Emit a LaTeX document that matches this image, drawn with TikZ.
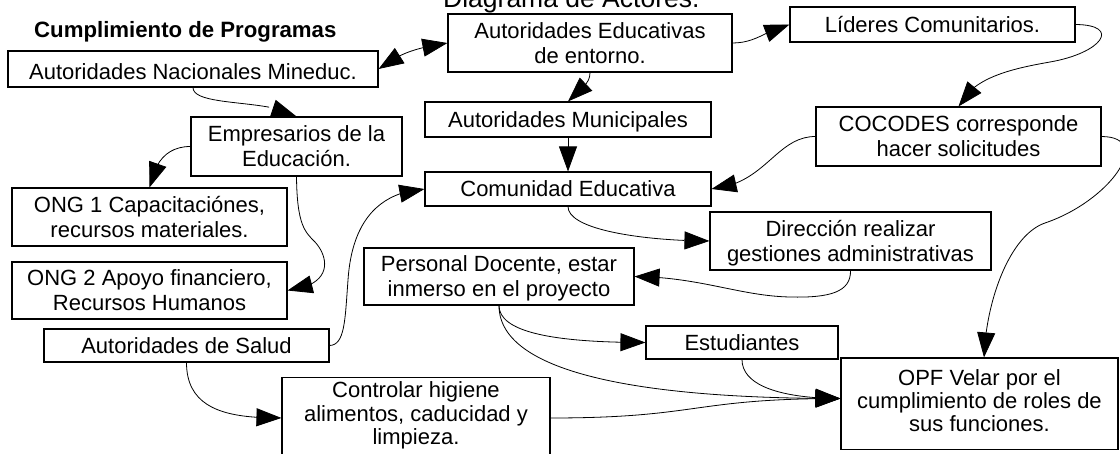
\documentclass[tikz,border=0pt]{standalone}
\usepackage{fontspec}
\setmainfont{Liberation Sans}
\usetikzlibrary{arrows.meta,bending}
\newcommand\strA{\rule[-4.25pt]{0pt}{24.25pt}}
\newcommand\strM{\rule[-4.25pt]{0pt}{30.25pt}}
\begin{document}
\begin{tikzpicture}[x=1pt,y=-1pt,
  box/.style={draw=black, line width=1.1pt, inner sep=0pt, align=center,
    font={\fontsize{22}{25}\selectfont\lineskiplimit=-100pt}},
  tightbox/.style={box, font={\fontsize{22}{23.2}\selectfont\lineskiplimit=-100pt}},
  link/.style={line width=0.8pt, -{Triangle[length=25pt,width=18pt,flex]}},
  biglink/.style={line width=0.8pt, {Triangle[length=25pt,width=18pt,flex]}-{Triangle[length=25pt,width=18pt,flex]}},
]
\useasboundingbox (0,0) rectangle (1120,454);
\fill[white] (0,0) rectangle (1120,454);

% titles
\node[anchor=base west, inner sep=0pt, font=\fontsize{26.5}{30}\selectfont] (title) at (443,8) {Diagrama de Actores.};
\node[anchor=base west, inner sep=0pt, font=\fontsize{22.2}{25}\selectfont\bfseries] (prog) at (34,38) {Cumplimiento de Programas};

% boxes
\node[box, minimum width=370pt, minimum height=36pt] (mineduc) at (193,69) {\strM Autoridades Nacionales Mineduc.};
\node[box, minimum width=284pt, minimum height=58pt] (educ) at (590,43) {\strA Autoridades Educativas\\\strA de entorno.};
\node[box, minimum width=285pt, minimum height=35pt] (lideres) at (932.5,24.5) {\strA Líderes Comunitarios.};
\node[box, minimum width=286pt, minimum height=35pt] (munic) at (568,119.5) {\strA Autoridades Municipales};
\node[box, minimum width=285pt, minimum height=59pt] (cocodes) at (958.5,136.5) {\strA COCODES corresponde\\\strA hacer solicitudes};
\node[box, minimum width=211pt, minimum height=59pt] (empres) at (296.5,146.5) {\strA Empresarios de la\\\strA Educación.};
\node[box, minimum width=286pt, minimum height=34pt] (comunidad) at (568,189) {\strA Comunidad Educativa};
\node[box, minimum width=275pt, minimum height=58pt] (ong1) at (149.5,217) {\strA ONG 1 Capacitaciónes,\\\strA recursos materiales.};
\node[box, minimum width=275pt, minimum height=57pt] (ong2) at (149.5,290.5) {\strA ONG 2 Apoyo financiero,\\\strA Recursos Humanos};
\node[box, minimum width=281pt, minimum height=58pt] (direccion) at (850.5,241) {\strA Dirección realizar\\\strA gestiones administrativas};
\node[box, minimum width=270pt, minimum height=57pt] (personal) at (499,276.5) {\strA Personal Docente, estar\\\strA inmerso en el proyecto};
\node[box, minimum width=285pt, minimum height=33pt] (salud) at (186.5,345.5) {\strA Autoridades de Salud};
\node[box, minimum width=192pt, minimum height=33pt] (estudiantes) at (742,342.5) {\strA Estudiantes};
\node[tightbox, minimum width=268pt, minimum height=80pt] (controlar) at (416,418)
  {\strA Controlar higiene\\alimentos, caducidad y\\limpieza.\rule[-14pt]{0pt}{0pt}};
\node[tightbox, minimum width=277pt, minimum height=91.5pt] (opf) at (979.5,403.75)
  {\strA OPF Velar por el\\cumplimiento de roles de\\sus funciones.\rule[-11pt]{0pt}{0pt}};

\coordinate (opfin) at ([yshift=5.25pt]opf.west);
\coordinate (opftop) at ([xshift=4.5pt]opf.north);

% connectors
\draw[biglink] (mineduc.east) .. controls (403,51) and (418,48) .. (educ.west);
\draw[link] (educ.east) .. controls (757,43) and (768,29) .. (lideres.west);
\draw[link] (lideres.east) .. controls (1122,25) and (1102,53) .. (1050,62)
  .. controls (1010,69) and (972,78) .. (cocodes.north);
\draw[link] (educ.south) .. controls (590,85) and (580,88) .. (munic.north);
\draw[link] (munic.south) -- (comunidad.north);
\draw[link] (cocodes.west) .. controls (776,136.5) and (766,184) .. (comunidad.east);
\draw[link] (mineduc.south) .. controls (193,107) and (271.5,99) .. (empres.north);
\draw[link] (empres.west) .. controls (166,146.5) and (154.5,163) .. (ong1.north);
\draw[link] (empres.south) .. controls (297,225) and (305,232) .. (315,242)
  .. controls (328,256) and (335,285) .. (ong2.east);
\draw[link] (salud.east) .. controls (345,345) and (345,320) .. (348,280)
  .. controls (352,220) and (380,192) .. (comunidad.west);
\draw[link] (comunidad.south) .. controls (568,231) and (650,241) .. (direccion.west);
\draw[link] (direccion.south) .. controls (851,292) and (830,298) .. (790,297)
  .. controls (740,296) and (700,277) .. (personal.east);
\draw[link] (cocodes.east) .. controls (1155,137) and (1110,201) .. (1045,223)
  .. controls (1010,235) and (986,300) .. (opftop);
\draw[link] (personal.south) .. controls (499,335) and (566,342.5) .. (estudiantes.west);
\draw[link] (personal.south) .. controls (499,390) and (720,398.5) .. (opfin);
\draw[link] (estudiantes.south) .. controls (742,389) and (791,398.5) .. (opfin);
\draw[link] (salud.south) .. controls (186.5,412) and (232,418) .. (controlar.west);
\draw[link] (controlar.east) .. controls (700,418) and (691,398.5) .. (opfin);
\end{tikzpicture}
\end{document}
